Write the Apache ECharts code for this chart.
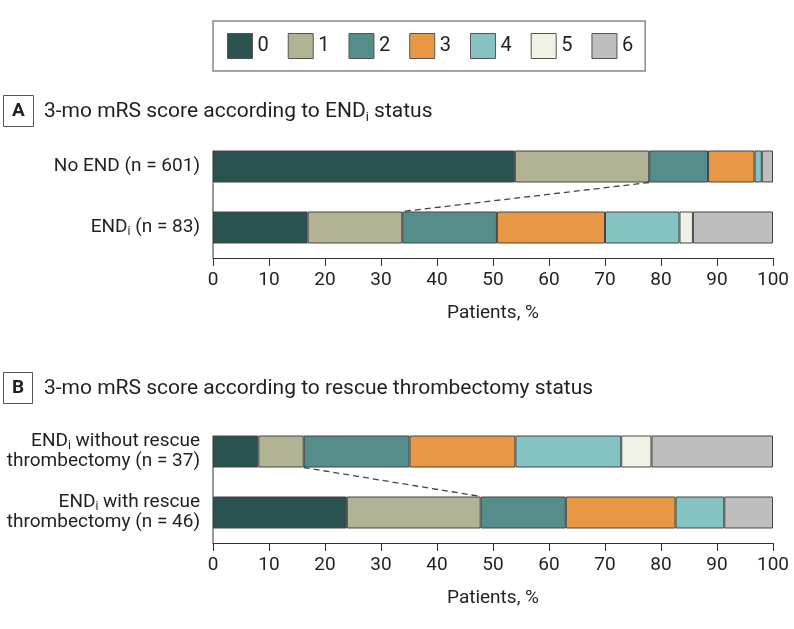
<!DOCTYPE html>
<html>
<head>
<meta charset="utf-8">
<script src="https://cdn.jsdelivr.net/npm/echarts@6/dist/echarts.min.js"></script>
<style>
  html, body { margin: 0; padding: 0; background: #fff; }
  #chart { width: 794px; height: 629px; }
</style>
</head>
<body>
<div id="chart"></div>
<script>
// mRS score categories (legend + stack order)
const scores = ['0', '1', '2', '3', '4', '5', '6'];
const scoreColors = ['#2a5251', '#b2b395', '#558d8b', '#e89745', '#85c2c2', '#f0f2e6', '#bebebe'];

// Panel A: by END_i status (percent of patients)
const groupsA = ['No END (n = 601)', 'END{sub|i} (n = 83)'];
const noEnd = [53.9, 24.0, 10.5, 8.3, 1.3, 0, 2.0];
const endI = [16.9, 16.9, 16.9, 19.3, 13.3, 2.4, 14.3];

// Panel B: by rescue thrombectomy status
const groupsB = ['END{sub|i} without rescue\nthrombectomy (n = 37)', 'END{sub|i} with rescue\nthrombectomy (n = 46)'];
const withoutRescue = [8.1, 8.1, 18.9, 18.9, 18.9, 5.4, 21.7];
const withRescue = [23.9, 23.9, 15.2, 19.6, 8.7, 0, 8.7];

const xTicks = [0, 100, 10]; // min, max, interval
const FONT = 'Roboto';
const INK = '#231f20';
const BAR_W = 32;

const subRich = {
  sub: { fontSize: 12, lineHeight: 12, verticalAlign: 'bottom', fontFamily: FONT, color: INK }
};

// stacked bars for one panel
function barSeries(idx, rows) {
  return scores.map((s, k) => ({
    name: s,
    type: 'bar',
    stack: 'panel' + idx,
    xAxisIndex: idx,
    yAxisIndex: idx,
    barWidth: BAR_W,
    silent: true,
    data: rows.map(r => (r[k] > 0 ? r[k] : '-')),
    itemStyle: { color: scoreColors[k], borderColor: '#454545', borderWidth: 1 }
  }));
}

// dashed connector between the 0+1 boundaries, plus the short y axis line
function connector(params, api) {
  const top = api.coord([api.value(0), 0]);
  const bot = api.coord([api.value(2), 1]);
  const origin = api.coord([0, 0]);
  const band = api.size([0, 1])[1];
  const half = BAR_W / 2;
  return {
    type: 'group',
    children: [
      {
        type: 'line',
        shape: { x1: top[0], y1: top[1] + half, x2: bot[0], y2: bot[1] - half },
        style: { stroke: '#444', lineWidth: 1.3, lineDash: [6, 4] }
      },
      {
        type: 'line',
        shape: { x1: origin[0], y1: origin[1] - half, x2: origin[0], y2: bot[1] + band / 2 },
        style: { stroke: '#333', lineWidth: 1 }
      }
    ]
  };
}

function sum2(arr) { return arr[0] + arr[1]; }

function xAxisFor(idx) {
  return {
    gridIndex: idx,
    type: 'value',
    min: xTicks[0],
    max: xTicks[1],
    interval: xTicks[2],
    splitLine: { show: false },
    axisLine: { show: true, lineStyle: { color: '#333', width: 1 } },
    axisTick: { show: true, length: 8, lineStyle: { color: '#333' } },
    axisLabel: { fontSize: 19, fontFamily: FONT, color: INK, margin: 13 },
    name: 'Patients, %',
    nameLocation: 'middle',
    nameGap: 46,
    nameTextStyle: { fontSize: 19, fontFamily: FONT, color: INK }
  };
}

function yAxisFor(idx, cats) {
  return {
    gridIndex: idx,
    type: 'category',
    inverse: true,
    data: cats,
    axisLine: { show: false },
    axisTick: { show: false },
    axisLabel: {
      fontSize: 19, fontFamily: FONT, color: INK, margin: 13,
      lineHeight: 20, rich: subRich
    }
  };
}

function panelTitles(letter, text, top) {
  return [
    {
      text: letter,
      left: 3,
      top: top,
      padding: [6, 9],
      borderColor: '#555',
      borderWidth: 1,
      textStyle: { fontSize: 19, fontWeight: 'bold', fontFamily: FONT, color: INK, lineHeight: 20 }
    },
    {
      text: text,
      left: 40,
      top: top + 3,
      padding: [2, 4],
      textStyle: {
        fontSize: 21, fontWeight: 'normal', fontFamily: FONT, color: INK, lineHeight: 24,
        rich: { sub: { fontSize: 13, lineHeight: 13, verticalAlign: 'bottom', fontFamily: FONT, color: INK } }
      }
    }
  ];
}

const chart = echarts.init(document.getElementById('chart'), null, { renderer: 'canvas' });

chart.setOption({
  animation: false,
  backgroundColor: '#fff',
  title: [
    ...panelTitles('A', '3-mo mRS score according to END{sub|i} status', 95),
    ...panelTitles('B', '3-mo mRS score according to rescue thrombectomy status', 372)
  ],
  legend: {
    data: scores,
    left: 213,
    top: 21,
    padding: [12, 12, 12, 14],
    itemWidth: 25,
    itemHeight: 25,
    itemGap: 19,
    icon: 'rect',
    borderColor: '#888',
    borderWidth: 1.5,
    selectedMode: false,
    textStyle: { fontSize: 20, fontFamily: FONT, color: INK },
    itemStyle: { borderColor: '#555', borderWidth: 1 }
  },
  grid: [
    { left: 213, width: 560, top: 136, height: 122 },
    { left: 213, width: 560, top: 421, height: 122 }
  ],
  xAxis: [xAxisFor(0), xAxisFor(1)],
  yAxis: [yAxisFor(0, groupsA), yAxisFor(1, groupsB)],
  series: [
    ...barSeries(0, [noEnd, endI]),
    ...barSeries(1, [withoutRescue, withRescue]),
    {
      type: 'custom',
      xAxisIndex: 0,
      yAxisIndex: 0,
      silent: true,
      z: 5,
      encode: { x: 0, y: 1 },
      renderItem: connector,
      data: [[sum2(noEnd), 0, sum2(endI)]]
    },
    {
      type: 'custom',
      xAxisIndex: 1,
      yAxisIndex: 1,
      silent: true,
      z: 5,
      encode: { x: 0, y: 1 },
      renderItem: connector,
      data: [[sum2(withoutRescue), 0, sum2(withRescue)]]
    }
  ]
});
</script>
</body>
</html>
